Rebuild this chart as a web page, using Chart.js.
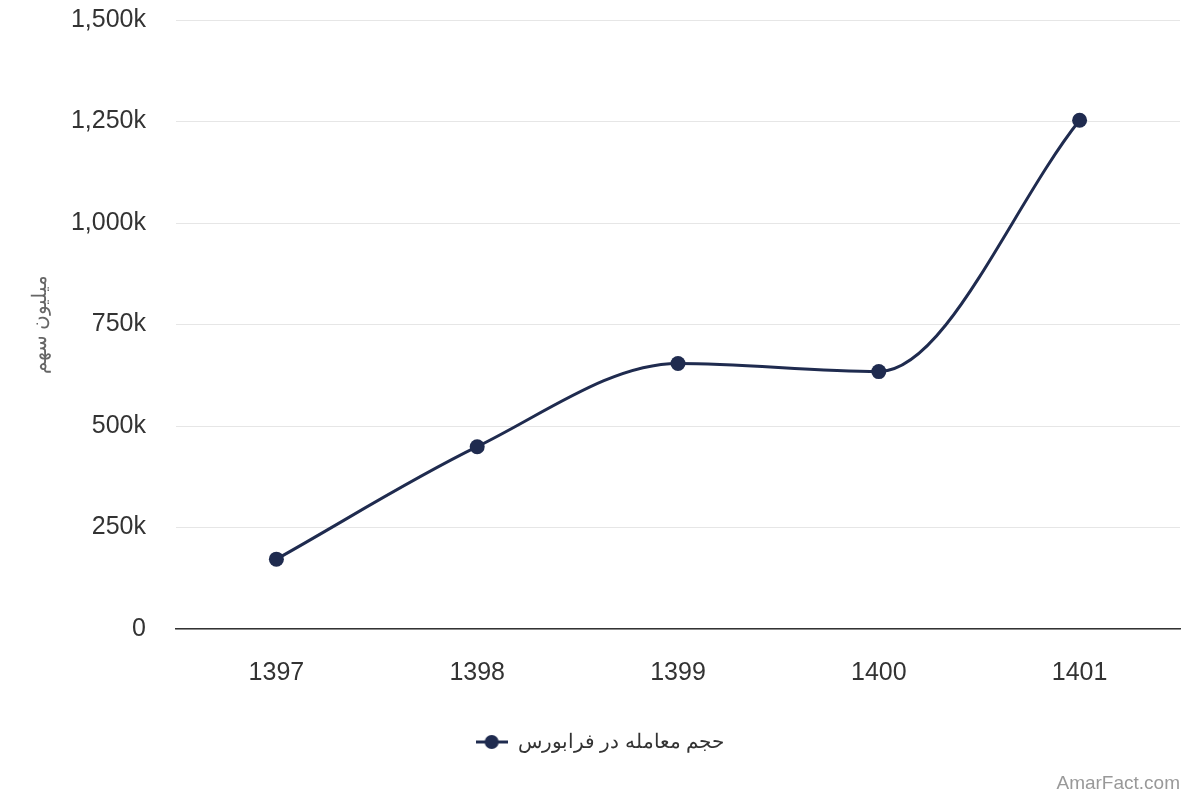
<!DOCTYPE html>
<html lang="fa">
<head>
<meta charset="utf-8">
<title>حجم معامله در فرابورس</title>
<script src="https://cdn.jsdelivr.net/npm/chart.js@4.4.1/dist/chart.umd.min.js"></script>
<style>
    html, body { margin: 0; padding: 0; background: #ffffff; }
    #wrap { position: relative; width: 1200px; height: 800px; }
    #credit {
        position: absolute; right: 20px; bottom: 6px;
        font: 19px "Liberation Sans", Arial, sans-serif; color: #999999;
    }
</style>
</head>
<body>
<div id="wrap">
    <canvas id="chart" width="1200" height="800"></canvas>
    <div id="credit">AmarFact.com</div>
</div>
<script>
// داده‌های نمودار
const years = ['1397', '1398', '1399', '1400', '1401'];
const volumes = [172000, 449000, 654000, 634000, 1253000];
const seriesName = 'حجم معامله در فرابورس';
const yTitle = 'میلیون سهم';
const lineColor = '#1f2b4f';

// نماد راهنما: خط با دایره در وسط
function legendSymbol() {
    const c = document.createElement('canvas');
    c.width = 32; c.height = 16;
    const g = c.getContext('2d');
    g.strokeStyle = lineColor;
    g.lineWidth = 3;
    g.beginPath();
    g.moveTo(0, 8); g.lineTo(32, 8);
    g.stroke();
    g.fillStyle = lineColor;
    g.beginPath();
    g.arc(16, 8, 7, 0, Math.PI * 2);
    g.fill();
    return c;
}

Chart.defaults.font.family = '"Liberation Sans", Arial, sans-serif';

const ctx = document.getElementById('chart').getContext('2d');
new Chart(ctx, {
    type: 'line',
    data: {
        labels: years,
        datasets: [{
            label: seriesName,
            data: volumes,
            borderColor: lineColor,
            backgroundColor: lineColor,
            borderWidth: 3,
            pointRadius: 7.5,
            pointHoverRadius: 8,
            pointBackgroundColor: lineColor,
            pointBorderWidth: 0,
            cubicInterpolationMode: 'monotone',
            fill: false
        }]
    },
    options: {
        responsive: false,
        animation: false,
        layout: { padding: { top: 0, right: 20, left: 20, bottom: 38 } },
        plugins: {
            legend: {
                position: 'bottom',
                labels: {
                    font: { size: 20 },
                    color: '#333333',
                    usePointStyle: true,
                    pointStyleWidth: 32,
                    boxHeight: 16,
                    padding: 15,
                    generateLabels: chart => [{
                        text: seriesName,
                        pointStyle: legendSymbol(),
                        fontColor: '#333333',
                        datasetIndex: 0
                    }]
                }
            },
            tooltip: { enabled: false }
        },
        scales: {
            x: {
                offset: true,
                grid: { display: false, drawTicks: false },
                border: { display: true, color: '#333333', width: 1.5 },
                ticks: { color: '#333333', font: { size: 25 }, padding: 29 }
            },
            y: {
                min: 0,
                max: 1500000,
                ticks: {
                    stepSize: 250000,
                    color: '#333333',
                    font: { size: 25 },
                    padding: 30,
                    callback: v => v === 0 ? '0' : (v / 1000).toLocaleString('en-US') + 'k'
                },
                grid: { color: '#e6e6e6', drawTicks: false },
                border: { display: false },
                title: {
                    display: true,
                    text: yTitle,
                    color: '#666666',
                    font: { size: 20 },
                    padding: { top: 8, bottom: 0 }
                },
                afterFit: s => {
                    s.paddingTop = 20;
                    s.width = 156;
                }
            }
        }
    }
});
</script>
</body>
</html>
